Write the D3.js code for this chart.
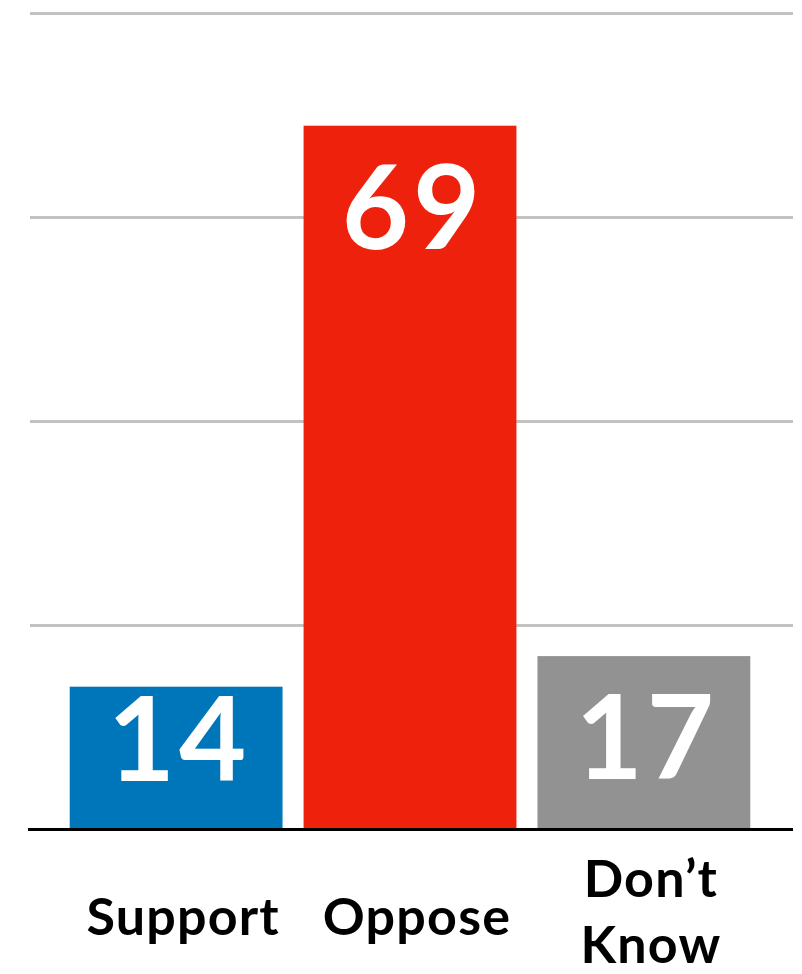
<!DOCTYPE html>
<html>
<head>
<meta charset="utf-8">
<script src="https://cdn.jsdelivr.net/npm/d3@7"></script>
<style>
  body { margin: 0; background: #fff; }
  svg { display: block; }
</style>
</head>
<body>
<svg width="802" height="974"></svg>
<script>
var categories = ["Support", "Oppose", "Don\u2019t Know"];
var values = [14, 69, 17];
var colors = ["#0076BA", "#EE220C", "#929292"];
var gridTicks = [20, 40, 60, 80];

var svg = d3.select("svg"),
    width = +svg.attr("width"),
    height = +svg.attr("height");

var y = d3.scaleLinear().domain([0, 80]).range([829.5, 13.5]);
var x = d3.scaleBand().domain(categories).range([58, 762]).paddingInner(0.09).paddingOuter(0.05);

// gridlines
svg.append("g").selectAll("line").data(gridTicks).enter().append("line")
  .attr("x1", 30).attr("x2", 793)
  .attr("y1", function(d) { return y(d); })
  .attr("y2", function(d) { return y(d); })
  .attr("stroke", "#c2c2c2").attr("stroke-width", 3);

// bars
svg.append("g").selectAll("rect").data(values).enter().append("rect")
  .attr("x", function(d, i) { return x(categories[i]); })
  .attr("y", function(d) { return y(d); })
  .attr("width", x.bandwidth())
  .attr("height", function(d) { return y(0) - y(d); })
  .attr("fill", function(d, i) { return colors[i]; });

// baseline
svg.append("line")
  .attr("x1", 28).attr("x2", 793)
  .attr("y1", y(0)).attr("y2", y(0))
  .attr("stroke", "#000").attr("stroke-width", 3);

// value labels
svg.append("g").selectAll("text").data(values).enter().append("text")
  .attr("x", function(d, i) { return x(categories[i]) + x.bandwidth() / 2 + 3; })
  .attr("y", function(d) { return Math.min(y(d) + 123, 781); })
  .attr("text-anchor", "middle")
  .attr("fill", "#fff")
  .style("font-family", "Lato, 'Noto Sans', sans-serif")
  .style("font-weight", 700)
  .style("font-size", "116px")
  .style("letter-spacing", "4px")
  .text(function(d) { return d; });

// category labels
var lab = svg.append("g").selectAll("text").data(categories).enter().append("text")
  .attr("text-anchor", "middle")
  .attr("fill", "#000")
  .style("font-family", "Lato, 'Noto Sans', sans-serif")
  .style("font-weight", 700)
  .style("font-size", "52px")
  .style("letter-spacing", "1.2px")
  .attr("transform", function(d) { return "translate(" + (x(d) + x.bandwidth() / 2 + 7) + ",0)"; });

lab.each(function(d) {
  var words = d.split(" ");
  var t = d3.select(this);
  if (words.length === 1) {
    t.append("tspan").attr("x", 0).attr("y", 935).text(d);
  } else {
    t.append("tspan").attr("x", 0).attr("y", 897).text(words[0]);
    t.append("tspan").attr("x", 0).attr("y", 963).text(words[1]);
  }
});
</script>
</body>
</html>
